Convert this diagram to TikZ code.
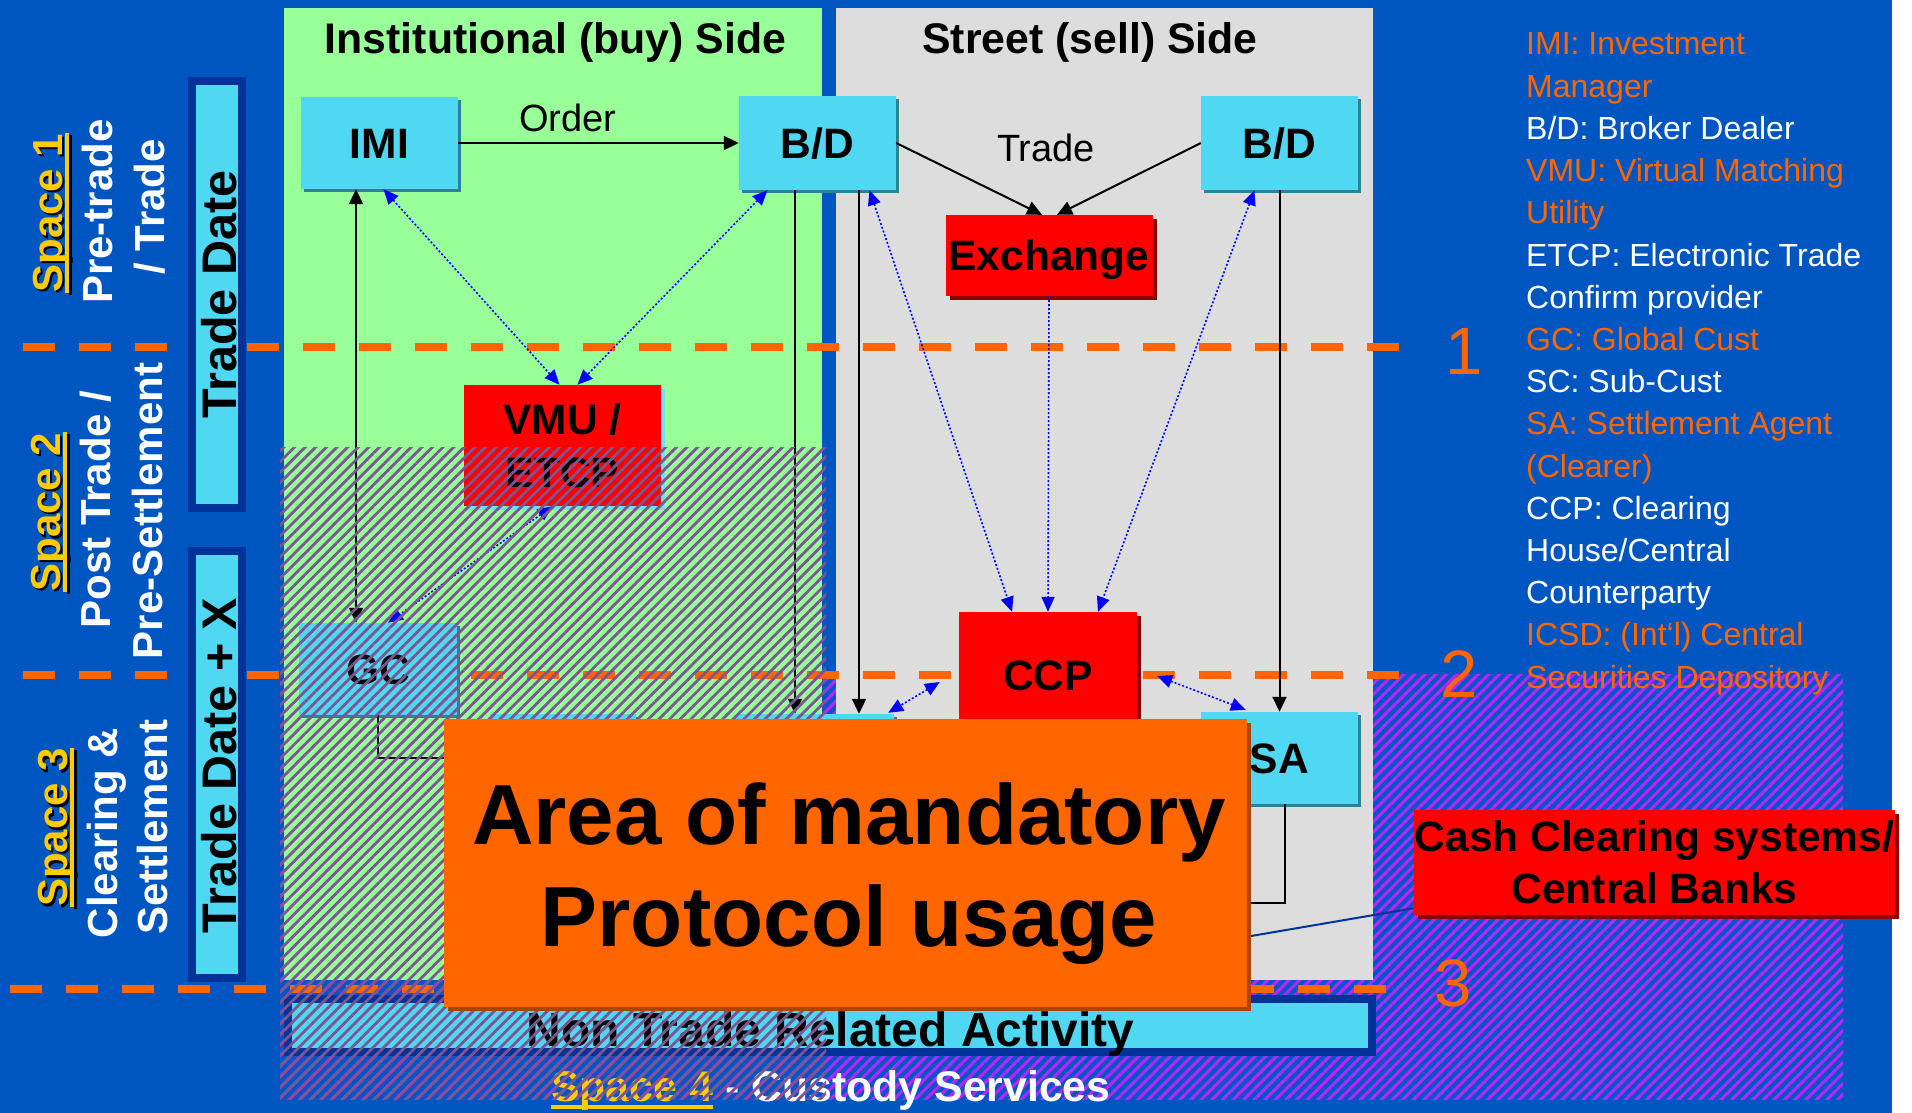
\documentclass[tikz,border=0pt]{standalone}
\usepackage{fontspec}
\setmainfont{Liberation Sans}
\usetikzlibrary{arrows.meta,shadows,patterns.meta,calc}
\definecolor{bgblue}{RGB}{0,86,192}
\definecolor{greenc}{RGB}{153,255,153}
\definecolor{grayc}{RGB}{221,221,221}
\definecolor{cyanc}{RGB}{80,216,242}
\definecolor{cyansh}{RGB}{45,130,150}
\definecolor{redc}{RGB}{255,0,0}
\definecolor{redsh}{RGB}{140,0,0}
\definecolor{orangec}{RGB}{255,102,0}
\definecolor{orangesh}{RGB}{170,70,0}
\definecolor{navyc}{RGB}{0,51,153}
\definecolor{yellowc}{RGB}{255,204,0}
\definecolor{bluec}{RGB}{0,0,255}
\definecolor{hatchA}{RGB}{125,85,145}
\definecolor{hatchB}{RGB}{175,40,255}
\definecolor{lightcy}{RGB}{110,225,245}
\begin{document}
\begin{tikzpicture}[x=1pt,y=-1pt,
  boxbase/.style={inner sep=0pt, align=center, font=\bfseries\fontsize{42.5}{53}\selectfont},
  onel/.style={text height=30pt, text depth=0pt},
  cyanbox/.style={boxbase, fill=cyanc, drop shadow={shadow xshift=3pt, shadow yshift=-3pt, opacity=1, fill=cyansh}},
  redbox/.style={boxbase, fill=redc, drop shadow={shadow xshift=4pt, shadow yshift=-4pt, opacity=1, fill=redsh}},
  blk/.style={draw=black, line width=2pt, -{Triangle[length=15pt,width=14pt]}},
  blkboth/.style={draw=black, line width=2pt, {Triangle[length=15pt,width=14pt]}-{Triangle[length=15pt,width=14pt]}},
  bluboth/.style={draw=bluec, line width=1.6pt, dash pattern=on 2pt off 2pt, {Triangle[length=15pt,width=13pt]}-{Triangle[length=15pt,width=13pt]}},
  bluone/.style={draw=bluec, line width=1.6pt, dash pattern=on 2pt off 2pt, -{Triangle[length=15pt,width=13pt]}},
  plain/.style={draw=black, line width=2pt},
  odash/.style={draw=orangec, line width=7.5pt, dash pattern=on 32pt off 24pt},
  spacelbl/.style={rotate=90, anchor=base, inner sep=0pt, font=\bfseries\fontsize{42}{50}\selectfont},
  tabframe/.style={draw=navyc, line width=8pt, fill=cyanc, minimum width=50pt, minimum height=427pt, inner sep=0pt},
  tabtext/.style={rotate=90, anchor=base, inner sep=0pt, font=\bfseries\fontsize{48.5}{56}\selectfont},
  legend/.style={anchor=base west, inner sep=0pt, font=\fontsize{32}{38}\selectfont},
  title/.style={anchor=base, inner sep=0pt, font=\bfseries\fontsize{42.8}{48}\selectfont},
  lbl/.style={inner sep=0pt, font=\fontsize{38}{44}\selectfont},
  num/.style={anchor=base, inner sep=0pt, text=orangec, font=\fontsize{67}{70}\selectfont},
  hatchpat/.style={pattern={Lines[angle=45,distance=7.5pt,line width=3.2pt]}},
  hatchfine/.style={pattern={Lines[angle=45,distance=7.5pt,line width=2.8pt]}}
]
\useasboundingbox (0,0) rectangle (1912,1113);
% background
\fill[white] (0,0) rectangle (1912,1113);
\fill[bgblue] (0,0) rectangle (1892,1113);
% hatch behind panels (blue area)
\fill[hatchpat, pattern color=hatchB, fill opacity=0.6] (280,674) rectangle (1843,1099);
% panels
\fill[greenc] (284,8) rectangle (822,980);
\fill[grayc] (836,8) rectangle (1373,980);
% titles
\node[title] (tinst) at (555.5,54) {Institutional (buy) Side};
\node[title] (tstreet) at (1090,54) {Street (sell) Side};
% non trade bar
\node[draw=navyc, line width=8pt, fill=cyanc, minimum width=1084pt, minimum height=53pt, inner sep=0pt] (ntbar) at (830,1025.5) {};
\node[anchor=base, inner sep=0pt, font=\bfseries\fontsize{48}{54}\selectfont] (nttext) at (830.5,1046) {Non Trade Related Activity};
% space 4
\node[anchor=base west, inner sep=0pt, font=\bfseries\fontsize{42.8}{48}\selectfont, text=yellowc] (sp4) at (551,1101) {Space 4};
\node[anchor=base west, inner sep=0pt, font=\bfseries\fontsize{42.8}{48}\selectfont, text=white] (cust) at (sp4.base east) {~- Custody Services};
\draw[yellowc, line width=4pt] ($(sp4.base west)+(0,6)$) -- ($(sp4.base east)+(0,6)$);
% dashed orange lines
\draw[odash] (23,347) -- (1400,347);
\draw[odash] (23,675) -- (1400,675);
\draw[odash] (10,989) -- (1387,989);
% boxes
\node[cyanbox, onel, minimum width=157pt, minimum height=92pt] (imi) at (379.5,143) {IMI};
\node[cyanbox, onel, minimum width=157pt, minimum height=94pt] (bd1) at (817.5,143) {B/D};
\node[cyanbox, onel, minimum width=157pt, minimum height=94pt] (bd2) at (1279.5,143) {B/D};
\node[redbox, onel, minimum width=207pt, minimum height=81pt] (exch) at (1049,255.5) {Exchange};
\node[boxbase, fill=redc, drop shadow={shadow xshift=4pt, shadow yshift=-4pt, opacity=1, fill=lightcy}, minimum width=197pt, minimum height=121pt] (vmu) at (562.5,445.5) {VMU /\\ETCP};
\node[cyanbox, onel, minimum width=158pt, minimum height=92pt] (gc) at (378,669) {GC};
\node[redbox, onel, minimum width=178pt, minimum height=126pt] (ccp) at (1048,675) {CCP};
\node[cyanbox, onel, minimum width=157pt, minimum height=92pt] (sa) at (1279.5,758) {SA};
\node[cyanbox, minimum width=146pt, minimum height=92pt] (hid1) at (563,760) {};
\node[cyanbox, minimum width=158pt, minimum height=92pt] (hid2) at (815,760) {};
% connectors
\draw[blk] (imi.east) -- node[lbl, pos=0.39, above=10pt] (order) {Order} (bd1.west);
\draw[blk] (bd1.east) -- ($(exch.north)+(-7,0)$);
\draw[blk] (bd2.west) -- ($(exch.north)+(8,0)$);
\node[lbl, anchor=base] (tradelbl) at (1046,161) {Trade};
\draw[blkboth] ($(imi.south)+(-23.5,0)$) -- ($(gc.north)+(-22,0)$);
\draw[bluboth] ($(imi.south)+(4,0)$) -- ($(vmu.north)+(-3,0)$);
\draw[bluboth] ($(bd1.south)+(-50,0)$) -- ($(vmu.north)+(15,0)$);
\draw[bluboth] ($(vmu.south)+(-10,0)$) -- ($(gc.north)+(10,0)$);
\draw[blk] ($(bd1.south)+(-22.5,0)$) -- ($(hid2.north)+(-20,0)$);
\draw[blk] ($(bd1.south)+(41.5,0)$) -- ($(hid2.north)+(44,0)$);
\draw[bluboth] ($(bd1.south)+(52,0)$) -- ($(ccp.north)+(-36,0)$);
\draw[bluone] (exch.south) -- (ccp.north);
\draw[bluboth] ($(bd2.south)+(-25,0)$) -- ($(ccp.north)+(50,0)$);
\draw[blk] (bd2.south) -- (sa.north);
\draw[bluboth] ($(ccp.east)+(20,1)$) -- ($(sa.north west)+(45,-2)$);
\draw[bluboth] ($(ccp.west)+(-19,7)$) -- ($(hid2.north east)+(-6,-1)$);
\coordinate (gcend) at (444,758);
\draw[plain] (gc.south) |- (gcend);
\coordinate (saend) at (1251,903);
\draw[plain] ($(sa.south)+(5,0)$) |- (saend);
% cash clearing box
\node[redbox, minimum width=481pt, minimum height=105pt, font=\bfseries\fontsize{42.5}{52}\selectfont] (cash) at (1654.5,862.5) {Cash Clearing systems/\\Central Banks};
\coordinate (cashend) at (1251,936);
\draw[navyc, line width=2pt] ($(cash.south west)+(0,-7)$) -- (cashend);
% hatch over institutional column
\fill[hatchfine, pattern color=hatchA, fill opacity=0.33] (280,447) rectangle (826,1099);
% orange box
\node[fill=orangec, drop shadow={shadow xshift=4pt, shadow yshift=-4pt, opacity=1, fill=orangesh}, minimum width=803pt, minimum height=288pt, inner sep=0pt] (orbox) at (845.5,863) {};
\node[align=center, inner sep=0pt, font=\bfseries\fontsize{85.3}{102}\selectfont] (ortext) at (849,874) {Area of mandatory\\Protocol usage};
% tabs
\node[tabframe] (tab1) at (217,294.5) {};
\node[tabtext] (tab1t) at (236,294.5) {Trade Date};
\node[tabframe] (tab2) at (217,764.5) {};
\node[tabtext] (tab2t) at (236,765.5) {Trade Date + X};
% left labels
\node[spacelbl, text=black] (s1sh) at (64.5,215.5) {Space 1};
\node[spacelbl, text=yellowc] (s1a) at (62,213) {Space 1};
\draw[black, line width=3pt] ($(s1a.base west)+(8,2)$) -- ($(s1a.base east)+(8,2)$);
\draw[yellowc, line width=4.5pt] ($(s1a.base west)+(5,0)$) -- ($(s1a.base east)+(5,0)$);
\node[spacelbl, text=white] (s1b) at (112,211.5) {Pre-trade};
\node[spacelbl, text=white] (s1c) at (164,207) {/ Trade};
\node[spacelbl, text=black] (s2sh) at (62.5,514.5) {Space 2};
\node[spacelbl, text=yellowc] (s2a) at (60,512) {Space 2};
\draw[black, line width=3pt] ($(s2a.base west)+(8,2)$) -- ($(s2a.base east)+(8,2)$);
\draw[yellowc, line width=4.5pt] ($(s2a.base west)+(5,0)$) -- ($(s2a.base east)+(5,0)$);
\node[spacelbl, text=white] (s2b) at (110,509.5) {Post Trade /};
\node[spacelbl, text=white] (s2c) at (162,511) {Pre-Settlement};
\node[spacelbl, text=black] (s3sh) at (69.5,830) {Space 3};
\node[spacelbl, text=yellowc] (s3a) at (67,827.5) {Space 3};
\draw[black, line width=3pt] ($(s3a.base west)+(8,2)$) -- ($(s3a.base east)+(8,2)$);
\draw[yellowc, line width=4.5pt] ($(s3a.base west)+(5,0)$) -- ($(s3a.base east)+(5,0)$);
\node[spacelbl, text=white] (s3b) at (117,833) {Clearing \&};
\node[spacelbl, text=white] (s3c) at (167,827) {Settlement};
% numbers
\node[num] (n1) at (1464,374) {1};
\node[num] (n2) at (1459,697) {2};
\node[num] (n3) at (1453.5,1006) {3};
% legend
\node[legend, text=orangec] (l0) at (1526,55) {IMI: Investment};
\node[legend, text=orangec] (l1) at (1526,97.2) {Manager};
\node[legend, text=white] (l2) at (1526,139.4) {B/D: Broker Dealer};
\node[legend, text=orangec] (l3) at (1526,181.6) {VMU: Virtual Matching};
\node[legend, text=orangec] (l4) at (1526,223.8) {Utility};
\node[legend, text=white] (l5) at (1526,266) {ETCP: Electronic Trade};
\node[legend, text=white] (l6) at (1526,308.2) {Confirm provider};
\node[legend, text=orangec] (l7) at (1526,350.4) {GC: Global Cust};
\node[legend, text=white] (l8) at (1526,392.6) {SC: Sub-Cust};
\node[legend, text=orangec] (l9) at (1526,434.8) {SA: Settlement Agent};
\node[legend, text=orangec] (l10) at (1526,477) {(Clearer)};
\node[legend, text=white] (l11) at (1526,519.2) {CCP: Clearing};
\node[legend, text=white] (l12) at (1526,561.4) {House/Central};
\node[legend, text=white] (l13) at (1526,603.6) {Counterparty};
\node[legend, text=orangec] (l14) at (1526,645.8) {ICSD: (Int‘l) Central};
\node[legend, text=orangec] (l15) at (1526,688) {Securities Depository};
\end{tikzpicture}
\end{document}
